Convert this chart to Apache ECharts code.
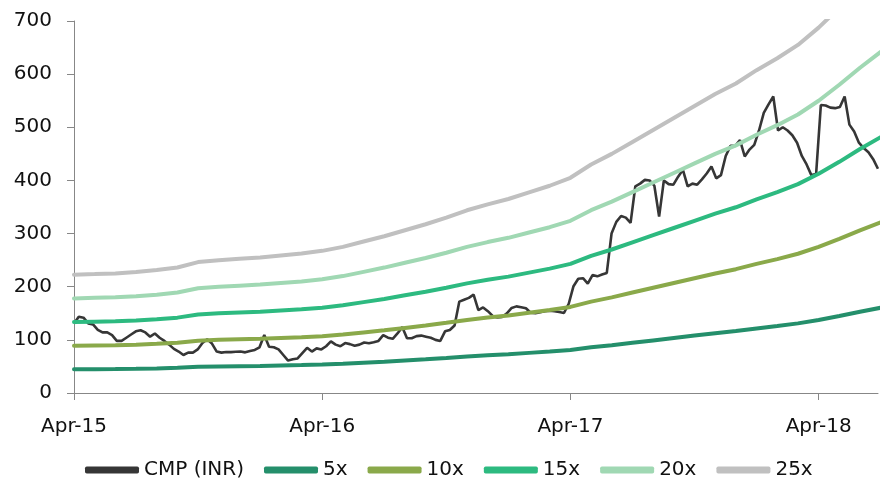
<!DOCTYPE html>
<html>
<head>
<meta charset="utf-8">
<script src="https://cdn.jsdelivr.net/npm/echarts@6/dist/echarts.min.js"></script>
<style>
  html, body { margin: 0; padding: 0; background: #ffffff; }
  #chart { width: 881px; height: 481px; }
</style>
</head>
<body>
<div id="chart"></div>
<script>
// x axis is measured in months since Apr-2015
const xTickMonths = [0, 12, 24, 36];
const xTickLabels = ['Apr-15', 'Apr-16', 'Apr-17', 'Apr-18'];
const xMaxMonths = 38.87;
const weekInMonths = 12 / 52.1775;

// Weekly closing price (INR), first week of Apr-2015 onward
const cmp = [
  131, 143.6, 141.7, 131, 129, 119, 114, 114, 109, 98,
  98, 104, 110, 116, 118, 114, 106, 112, 104, 98,
  91, 83, 78, 71.5, 76, 76, 82, 94, 101, 93,
  78, 76, 77, 77, 77.5, 78, 76.5, 79, 81, 86,
  109, 87, 86, 82, 71.5, 61, 63.5, 65, 75, 85,
  78, 84, 82, 88, 97, 91, 88, 94, 92, 89,
  91, 95, 93.5, 95.5, 98, 109, 104, 102, 112, 124,
  103, 103, 107, 108, 106, 104, 100, 98, 116, 118.5,
  127, 172, 175.5, 179, 185, 156, 161, 154, 145, 142,
  143, 150, 160, 163, 161.5, 159.5, 151, 150, 152, 154,
  155, 154, 152.5, 150.5, 168, 201, 215, 216, 206, 222,
  219.5, 223, 226, 300, 322, 333, 330, 320, 389, 394,
  401, 400, 390, 332, 400, 393, 392, 407, 420, 389,
  394, 392, 402, 413, 426, 404, 410, 446, 465, 465,
  476, 445, 458, 467, 494, 527, 543, 558, 494, 500,
  494, 485, 471, 446, 430, 410, 412, 542, 541, 537,
  536, 538, 558, 505, 492, 471, 461, 453, 440, 422
];

// Monthly one-year-forward EPS (INR), Apr-2015 onward
const eps = [
  8.9, 8.95, 9.0, 9.1, 9.25, 9.45, 9.85, 10.0, 10.1, 10.2,
  10.35, 10.5, 10.7, 11.0, 11.4, 11.8, 12.25, 12.7, 13.2, 13.75,
  14.2, 14.6, 15.1, 15.6, 16.2, 17.2, 18.0, 18.9, 19.8, 20.7,
  21.6, 22.5, 23.3, 24.3, 25.2, 26.2, 27.5, 29.0, 30.6, 32.1
];

// P/E multiples for the bands
const multiples = [5, 10, 15, 20, 25];
const bandNames = ['5x', '10x', '15x', '20x', '25x'];
const cmpName = 'CMP (INR)';

const cmpColor = '#363636';
const bandColors = ['#248f6b', '#8aa94a', '#2dba80', '#a0d8b3', '#c0c0c0'];
const FONT = 'DejaVu Sans';

const chart = echarts.init(document.getElementById('chart'), null, { renderer: 'canvas' });

const series = [{
  name: cmpName,
  type: 'line',
  data: cmp.map((v, i) => [i * weekInMonths, v]),
  showSymbol: false,
  lineStyle: { color: cmpColor, width: 2.6 },
  itemStyle: { color: cmpColor },
  clip: true,
  z: 2
}];

multiples.forEach((m, k) => {
  series.push({
    name: bandNames[k],
    type: 'line',
    data: eps.map((e, i) => [i, Math.round(e * m * 10) / 10]),
    showSymbol: false,
    lineStyle: { color: bandColors[k], width: 4, cap: 'round' },
    itemStyle: { color: bandColors[k] },
    clip: true,
    z: 3
  });
});

chart.setOption({
  animation: false,
  backgroundColor: '#ffffff',
  grid: { left: 74, right: 3, top: 21, bottom: 88, containLabel: false, outerBoundsMode: 'none' },
  legend: {
    data: [cmpName].concat(bandNames),
    left: 80,
    top: 455,
    icon: 'roundRect',
    itemWidth: 54,
    itemHeight: 7,
    itemGap: 20,
    textStyle: { fontFamily: FONT, fontSize: 20, color: '#111111' }
  },
  xAxis: {
    type: 'value',
    min: 0,
    max: xMaxMonths,
    interval: 12,
    splitLine: { show: false },
    axisLine: { lineStyle: { color: '#878787', width: 1 } },
    axisTick: { show: true, length: 7, customValues: xTickMonths, lineStyle: { color: '#878787' } },
    axisLabel: {
      customValues: xTickMonths,
      margin: 24,
      fontFamily: FONT,
      fontSize: 20,
      color: '#111111',
      formatter: function (v) {
        const idx = xTickMonths.indexOf(Math.round(v));
        return idx >= 0 ? xTickLabels[idx] : '';
      }
    }
  },
  yAxis: {
    type: 'value',
    min: 0,
    max: 700,
    interval: 100,
    splitLine: { show: false },
    axisLine: { show: true, lineStyle: { color: '#878787', width: 1 } },
    axisTick: { show: true, length: 7, lineStyle: { color: '#878787' } },
    axisLabel: { margin: 22, fontFamily: FONT, fontSize: 20, color: '#111111' }
  },
  series: series
});
</script>
</body>
</html>
